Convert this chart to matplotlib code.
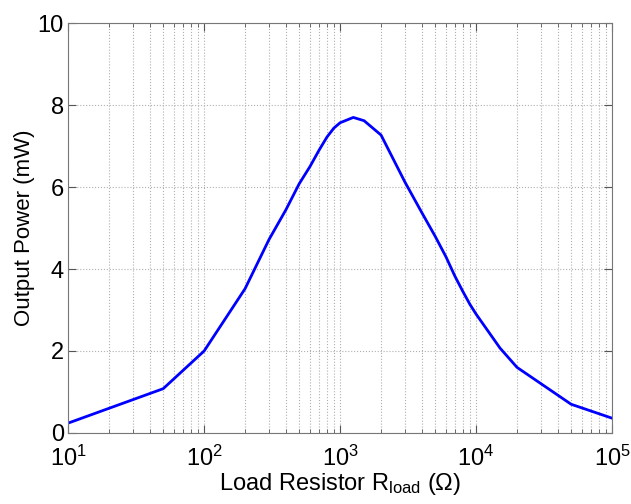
import matplotlib
matplotlib.use("Agg")
import matplotlib.pyplot as plt
from matplotlib.ticker import LogLocator, MultipleLocator

plt.rcParams['font.family'] = ['Liberation Sans', 'DejaVu Sans']
plt.rcParams['mathtext.fontset'] = 'custom'
plt.rcParams['mathtext.rm'] = 'Liberation Sans'
plt.rcParams['mathtext.it'] = 'Liberation Sans:italic'

# load resistance (ohm) and measured output power (mW)
r_load = [10, 50, 100, 200, 300, 400, 500, 600, 700, 800, 900, 1000, 1250, 1500,
          2000, 3000, 4000, 5000, 6000, 7000, 8000, 9000, 10000, 15000, 20000,
          50000, 100000]
power = [0.24, 1.08, 2.0, 3.52, 4.72, 5.45, 6.08, 6.5, 6.9, 7.22, 7.44, 7.57, 7.7, 7.62,
         7.27, 6.12, 5.37, 4.8, 4.3, 3.82, 3.45, 3.14, 2.9, 2.07, 1.6,
         0.7, 0.36]

fig = plt.figure(figsize=(6.31, 5.04), dpi=100)
ax = fig.add_axes([0.108, 0.141, 0.862, 0.813])

ax.plot(r_load, power, color='#0000ff', linewidth=2)

ax.set_xscale('log')
ax.set_xlim(10, 1e5)
ax.set_ylim(0, 10)
ax.yaxis.set_major_locator(MultipleLocator(2))
ax.xaxis.set_major_locator(LogLocator(base=10, numticks=10))
ax.xaxis.set_minor_locator(LogLocator(base=10, subs=range(2, 10), numticks=10))

ax.grid(True, which='major', axis='both', linestyle=':', color='#b0b0b0', linewidth=0.8)
ax.grid(True, which='minor', axis='x', linestyle=':', color='#b0b0b0', linewidth=0.8)

ax.tick_params(which='both', direction='in', top=True, right=True, labelsize=17, colors='#555555',
               labelcolor='black')
ax.tick_params(which='major', length=6)
ax.tick_params(which='minor', length=3)
ax.tick_params(axis='x', which='major', pad=9)
ax.tick_params(axis='y', which='major', pad=3)
for s in ax.spines.values():
    s.set_color('#777777')

ax.set_xlabel('Load Resistor R$_{\\mathrm{load}}$ (Ω)', fontsize=17, labelpad=0)
ax.set_ylabel('Output Power (mW)', fontsize=16, labelpad=2)

fig.savefig('out.png', dpi=100)
